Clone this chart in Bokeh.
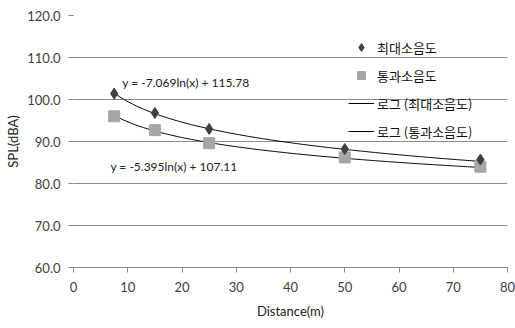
import numpy as np
from bokeh.plotting import figure
from bokeh.models import Legend, LegendItem, Label, FixedTicker, Range1d, NumeralTickFormatter
from bokeh.embed import file_html
from bokeh.resources import INLINE

# ---- data ----
distance = [7.5, 15, 25, 50, 75]
max_noise = [101.4, 96.8, 93.0, 88.2, 85.7]     # 최대소음도
pass_noise = [96.0, 92.7, 89.6, 86.2, 84.0]     # 통과소음도
fit_max = (-7.069, 115.78)    # y = a ln(x) + b
fit_pass = (-5.395, 107.11)
x_ticks = [0, 10, 20, 30, 40, 50, 60, 70, 80]
y_ticks = [60, 70, 80, 90, 100, 110, 120]
eq_max = "y = -7.069ln(x) + 115.78"
eq_pass = "y = -5.395ln(x) + 107.11"
names = ["최대소음도", "통과소음도", "로그 (최대소음도)", "로그 (통과소음도)"]

LAT = "Lato"
KR = "Noto Sans CJK KR"

p = figure(width=515, height=328, output_backend="svg", toolbar_location=None,
           x_range=Range1d(0, 80), y_range=Range1d(60, 120),
           min_border_left=73, min_border_right=8, min_border_top=15, min_border_bottom=61)
p.outline_line_color = None
p.background_fill_color = "white"

# axes
p.xaxis.ticker = FixedTicker(ticks=x_ticks)
p.yaxis.ticker = FixedTicker(ticks=y_ticks)
p.yaxis.formatter = NumeralTickFormatter(format="0.0")
for ax in (p.xaxis[0], p.yaxis[0]):
    ax.major_label_text_font = LAT
    ax.major_label_text_font_size = "13px"
    ax.major_label_text_color = "#404040"
    ax.minor_tick_line_color = None
    ax.major_tick_line_color = "#888888"
    ax.major_tick_out = 5
    ax.major_tick_in = 0
    ax.axis_label_text_font = LAT
    ax.axis_label_text_font_size = "13px"
    ax.axis_label_text_font_style = "normal"
    ax.axis_label_text_color = "#222222"
p.xaxis.axis_line_color = "#888888"
p.yaxis.axis_line_color = None
p.xaxis.axis_label = "Distance(m)"
p.yaxis.axis_label = "SPL(dBA)"
p.xaxis.major_label_standoff = 9
p.xaxis.axis_label_standoff = 8
p.yaxis.major_label_standoff = 8
p.yaxis.axis_label_standoff = 3

p.xgrid.grid_line_color = None
p.ygrid.grid_line_color = "#8a8a8a"
p.ygrid.grid_line_width = 1

# trend lines (logarithmic fits shown on the chart)
xs = np.linspace(distance[0], distance[-1], 200)
r3 = p.line(xs, fit_max[0] * np.log(xs) + fit_max[1], line_color="black", line_width=1)
r4 = p.line(xs, fit_pass[0] * np.log(xs) + fit_pass[1], line_color="black", line_width=1)

# markers
r2 = p.scatter(distance, pass_noise, marker="square", size=11, fill_color="#a6a6a6",
               line_color="#a6a6a6")
r1 = p.scatter(distance, max_noise, marker="diamond", size=11, fill_color="#404040",
               line_color="#404040")

# equation labels
p.add_layout(Label(x=9.0, y=104.0, text=eq_max, text_font=LAT, text_font_size="12px",
                   text_color="#222222", text_baseline="middle"))
p.add_layout(Label(x=6.8, y=84.0, text=eq_pass, text_font=LAT, text_font_size="12px",
                   text_color="#222222", text_baseline="middle"))

legend = Legend(items=[LegendItem(label=names[0], renderers=[r1]),
                       LegendItem(label=names[1], renderers=[r2]),
                       LegendItem(label=names[2], renderers=[r3]),
                       LegendItem(label=names[3], renderers=[r4])],
                location=(275, 126), padding=0, margin=0, spacing=8,
                glyph_width=26, glyph_height=20, label_height=20, label_standoff=3,
                label_text_font=KR, label_text_font_size="13px", label_text_color="#111111",
                border_line_alpha=0, background_fill_alpha=0)
p.add_layout(legend)

open("out.html", "w").write(file_html(p, INLINE))
